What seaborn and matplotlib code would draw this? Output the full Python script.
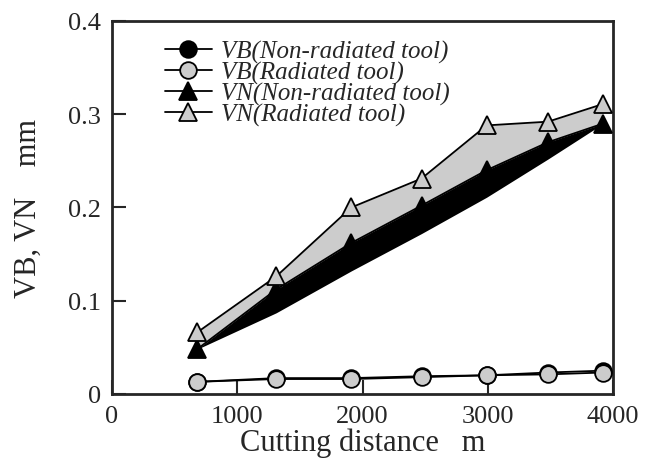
import numpy as np
import pandas as pd
import matplotlib
matplotlib.use('Agg')
import matplotlib.pyplot as plt
import seaborn as sns

# values
distance = [680, 1310, 1910, 2470, 2990, 3480, 3920]
vb_non = [0.013, 0.017, 0.017, 0.019, 0.020, 0.023, 0.025]
vb_rad = [0.013, 0.016, 0.016, 0.018, 0.020, 0.021, 0.023]
vn_non = [0.048, 0.112, 0.162, 0.202, 0.240, 0.270, 0.290]
vn_rad = [0.066, 0.126, 0.200, 0.231, 0.288, 0.292, 0.311]
# lower edge of the black band under the VN(Non-radiated) line
band_low = [0.048, 0.087, 0.132, 0.172, 0.211, 0.252, 0.290]
labels = ['VB(Non-radiated tool)', 'VB(Radiated tool)',
          'VN(Non-radiated tool)', 'VN(Radiated tool)']

sns.set_style('ticks')
plt.rcParams['font.family'] = ['Liberation Serif', 'DejaVu Serif']

fig = plt.figure(figsize=(6.51, 4.77), dpi=100)
ax = fig.add_axes([0.172, 0.172, 0.770, 0.782])

gray = '#cccccc'
ax.fill_between(distance, vn_non, vn_rad, color=gray, lw=0, zorder=1)
ax.fill_between(distance, band_low, vn_non, color='black', lw=0, zorder=2)

df = pd.DataFrame({'d': distance, 'vb_non': vb_non, 'vb_rad': vb_rad,
                   'vn_non': vn_non, 'vn_rad': vn_rad})
styles = [('vb_non', 'o', 'black', 12), ('vb_rad', 'o', gray, 12),
          ('vn_non', '^', 'black', 13), ('vn_rad', '^', gray, 13)]
for (col, m, fc, ms), lab in zip(styles, labels):
    sns.lineplot(data=df, x='d', y=col, ax=ax, color='black', lw=1.3,
                 marker=m, markersize=ms, markerfacecolor=fc,
                 markeredgecolor='black', markeredgewidth=1.3,
                 label=lab, zorder=3)

ax.set_xlim(0, 4000)
ax.set_ylim(0, 0.4)
ax.set_xticks([0, 1000, 2000, 3000, 4000])
ax.set_yticks([0, 0.1, 0.2, 0.3, 0.4])
ax.set_yticklabels(['0', '0.1', '0.2', '0.3', '0.4'])
ax.tick_params(direction='in', length=10, width=1.5, labelsize=19, pad=8)
for s in ax.spines.values():
    s.set_linewidth(2)
ax.set_xlabel('Cutting distance   m', fontsize=22, labelpad=0)
ax.set_ylabel('VB, VN    mm', fontsize=22, labelpad=18)

leg = ax.legend(loc='upper left', bbox_to_anchor=(0.075, 0.99), frameon=False,
                labelspacing=-0.08, handlelength=1.9,
                handletextpad=0.35, borderaxespad=0.2,
                prop={'style': 'italic', 'size': 18})

fig.savefig('out.png', dpi=100)
